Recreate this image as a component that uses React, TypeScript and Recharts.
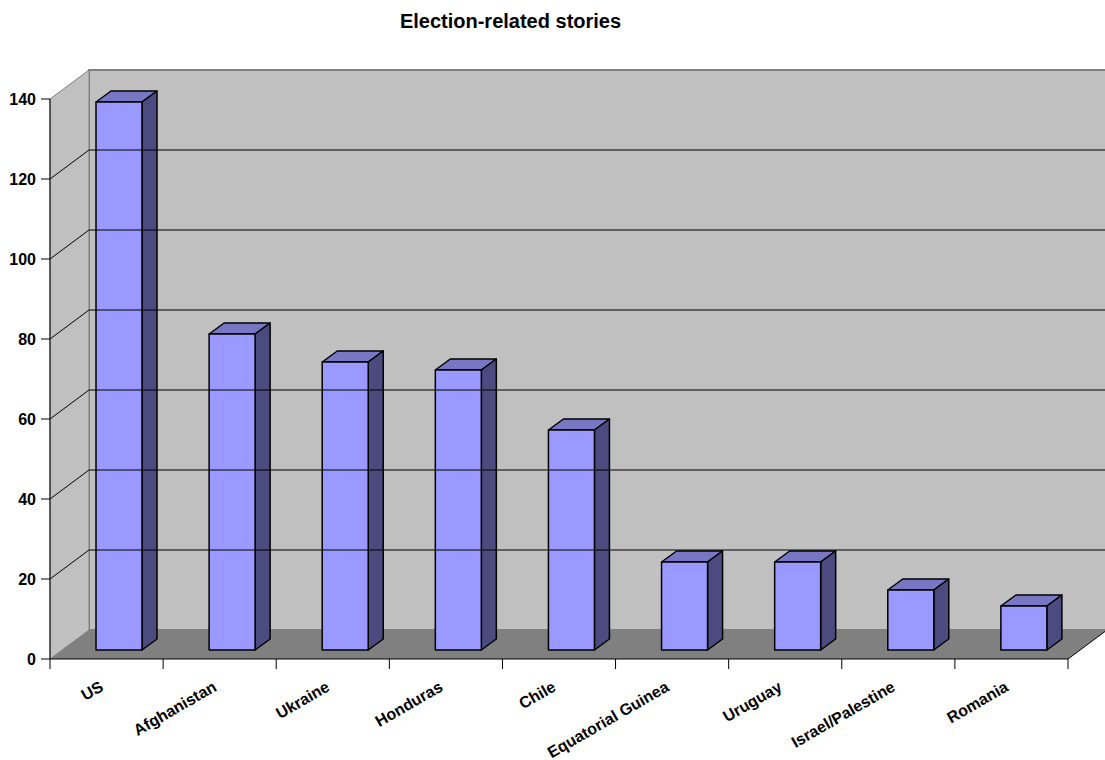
import React from 'react';
import { BarChart, Bar, XAxis, YAxis, ReferenceArea, ReferenceLine } from 'recharts';

const countries = [
  'US',
  'Afghanistan',
  'Ukraine',
  'Honduras',
  'Chile',
  'Equatorial Guinea',
  'Uruguay',
  'Israel/Palestine',
  'Romania',
];
const stories = [137, 79, 72, 70, 55, 22, 22, 15, 11];
const yTicks = [0, 20, 40, 60, 80, 100, 120, 140];
const wallLines = [20, 40, 60, 80, 100, 120];

const data = countries.map((name, i) => ({ name, stories: stories[i] }));

const FONT = '"Liberation Sans", Arial, Helvetica, sans-serif';

// oblique projection: back wall sits behind the front axis plane
const WALL_DX = 39;
const WALL_DY = -29;
// bars stand a little way into the floor
const BAR_DX = 12;
const BAR_DY = -9;
// depth of each box
const BOX_DX = 15;
const BOX_DY = -11;

const renderRoom = (props: any) => {
  const { x, y, width, height } = props;
  const bottom = y + height;
  const right = x + width;
  return (
    <g>
      {/* back wall */}
      <polygon
        points={`${x + WALL_DX},${y + WALL_DY} ${right + WALL_DX},${y + WALL_DY} ${right + WALL_DX},${bottom + WALL_DY} ${x + WALL_DX},${bottom + WALL_DY}`}
        fill="#c0c0c0"
        stroke="#808080"
        strokeWidth={2}
      />
      {/* side wall */}
      <polygon
        points={`${x},${bottom} ${x},${y} ${x + WALL_DX},${y + WALL_DY} ${x + WALL_DX},${bottom + WALL_DY}`}
        fill="#c0c0c0"
        stroke="#808080"
        strokeWidth={1}
      />
      {/* floor */}
      <polygon
        points={`${x},${bottom} ${x + WALL_DX},${bottom + WALL_DY} ${right + WALL_DX},${bottom + WALL_DY} ${right},${bottom}`}
        fill="#808080"
        stroke="none"
      />
      <line x1={right} y1={bottom} x2={right + WALL_DX} y2={bottom + WALL_DY} stroke="#000" strokeWidth={1} />
    </g>
  );
};

const renderWallLine = (props: any) => {
  const { x1, y1, x2 } = props;
  const left = Math.min(x1, x2);
  const right = Math.max(x1, x2);
  return (
    <g>
      <line x1={left} y1={y1} x2={left + WALL_DX} y2={y1 + WALL_DY} stroke="#000" strokeWidth={1} />
      <line x1={left + WALL_DX} y1={y1 + WALL_DY} x2={right + WALL_DX} y2={y1 + WALL_DY} stroke="#000" strokeWidth={1} />
    </g>
  );
};

const Box3D = (props: any) => {
  const { x, y, width, height } = props;
  if (height == null || width == null) return null;
  const fx = x + BAR_DX;
  const fy = y + BAR_DY;
  const r = fx + width;
  const b = fy + height;
  return (
    <g stroke="#000" strokeWidth={1.5} strokeLinejoin="round">
      <polygon
        points={`${fx},${fy} ${fx + BOX_DX},${fy + BOX_DY} ${r + BOX_DX},${fy + BOX_DY} ${r},${fy}`}
        fill="#7777c4"
      />
      <polygon
        points={`${r},${fy} ${r + BOX_DX},${fy + BOX_DY} ${r + BOX_DX},${b + BOX_DY} ${r},${b}`}
        fill="#4b4b80"
      />
      <rect x={fx} y={fy} width={width} height={height} fill="#9999ff" />
    </g>
  );
};

const CountryTick = (props: any) => {
  const { x, y, payload, index } = props;
  const half = payload?.offset ?? 1018 / countries.length / 2;
  const axisY = y - 12;
  const tx = x - 2;
  const ty = axisY + 31;
  return (
    <g>
      <line x1={x - half} y1={axisY} x2={x - half} y2={axisY + 10} stroke="#000" />
      {index === countries.length - 1 && (
        <line x1={x + half} y1={axisY} x2={x + half} y2={axisY + 10} stroke="#000" />
      )}
      <text
        x={tx}
        y={ty}
        textAnchor="end"
        transform={`rotate(-30, ${tx}, ${ty})`}
        fontFamily={FONT}
        fontWeight="bold"
        fontSize={16}
        fill="#000"
      >
        {payload.value}
      </text>
    </g>
  );
};

export default function App() {
  return (
    <div style={{ position: 'absolute', left: 0, top: 0, width: 1105, height: 760, background: '#fff' }}>
      <div
        style={{
          position: 'absolute',
          left: 0,
          top: 11,
          width: 1021,
          textAlign: 'center',
          fontFamily: FONT,
          fontWeight: 'bold',
          fontSize: 20,
          lineHeight: '20px',
        }}
      >
        Election-related stories
      </div>
      <BarChart
        width={1105}
        height={760}
        data={data}
        margin={{ top: 99, right: 37, bottom: 0, left: 0 }}
        barSize={46}
      >
        <ReferenceArea y1={0} y2={140} shape={renderRoom} ifOverflow="visible" />
        {wallLines.map((v) => (
          <ReferenceLine key={v} y={v} shape={renderWallLine} ifOverflow="visible" />
        ))}
        <XAxis
          dataKey="name"
          height={101}
          interval={0}
          tickLine={false}
          tickSize={10}
          tickMargin={2}
          axisLine={{ stroke: '#000', strokeWidth: 1 }}
          tick={<CountryTick />}
        />
        <YAxis
          width={50}
          domain={[0, 140]}
          ticks={yTicks}
          interval={0}
          tickSize={9}
          tickMargin={5}
          axisLine={{ stroke: '#000', strokeWidth: 1 }}
          tickLine={{ stroke: '#000' }}
          tick={{ fontFamily: FONT, fontWeight: 'bold', fontSize: 16, fill: '#000' }}
        />
        <Bar dataKey="stories" shape={<Box3D />} isAnimationActive={false} />
      </BarChart>
    </div>
  );
}
